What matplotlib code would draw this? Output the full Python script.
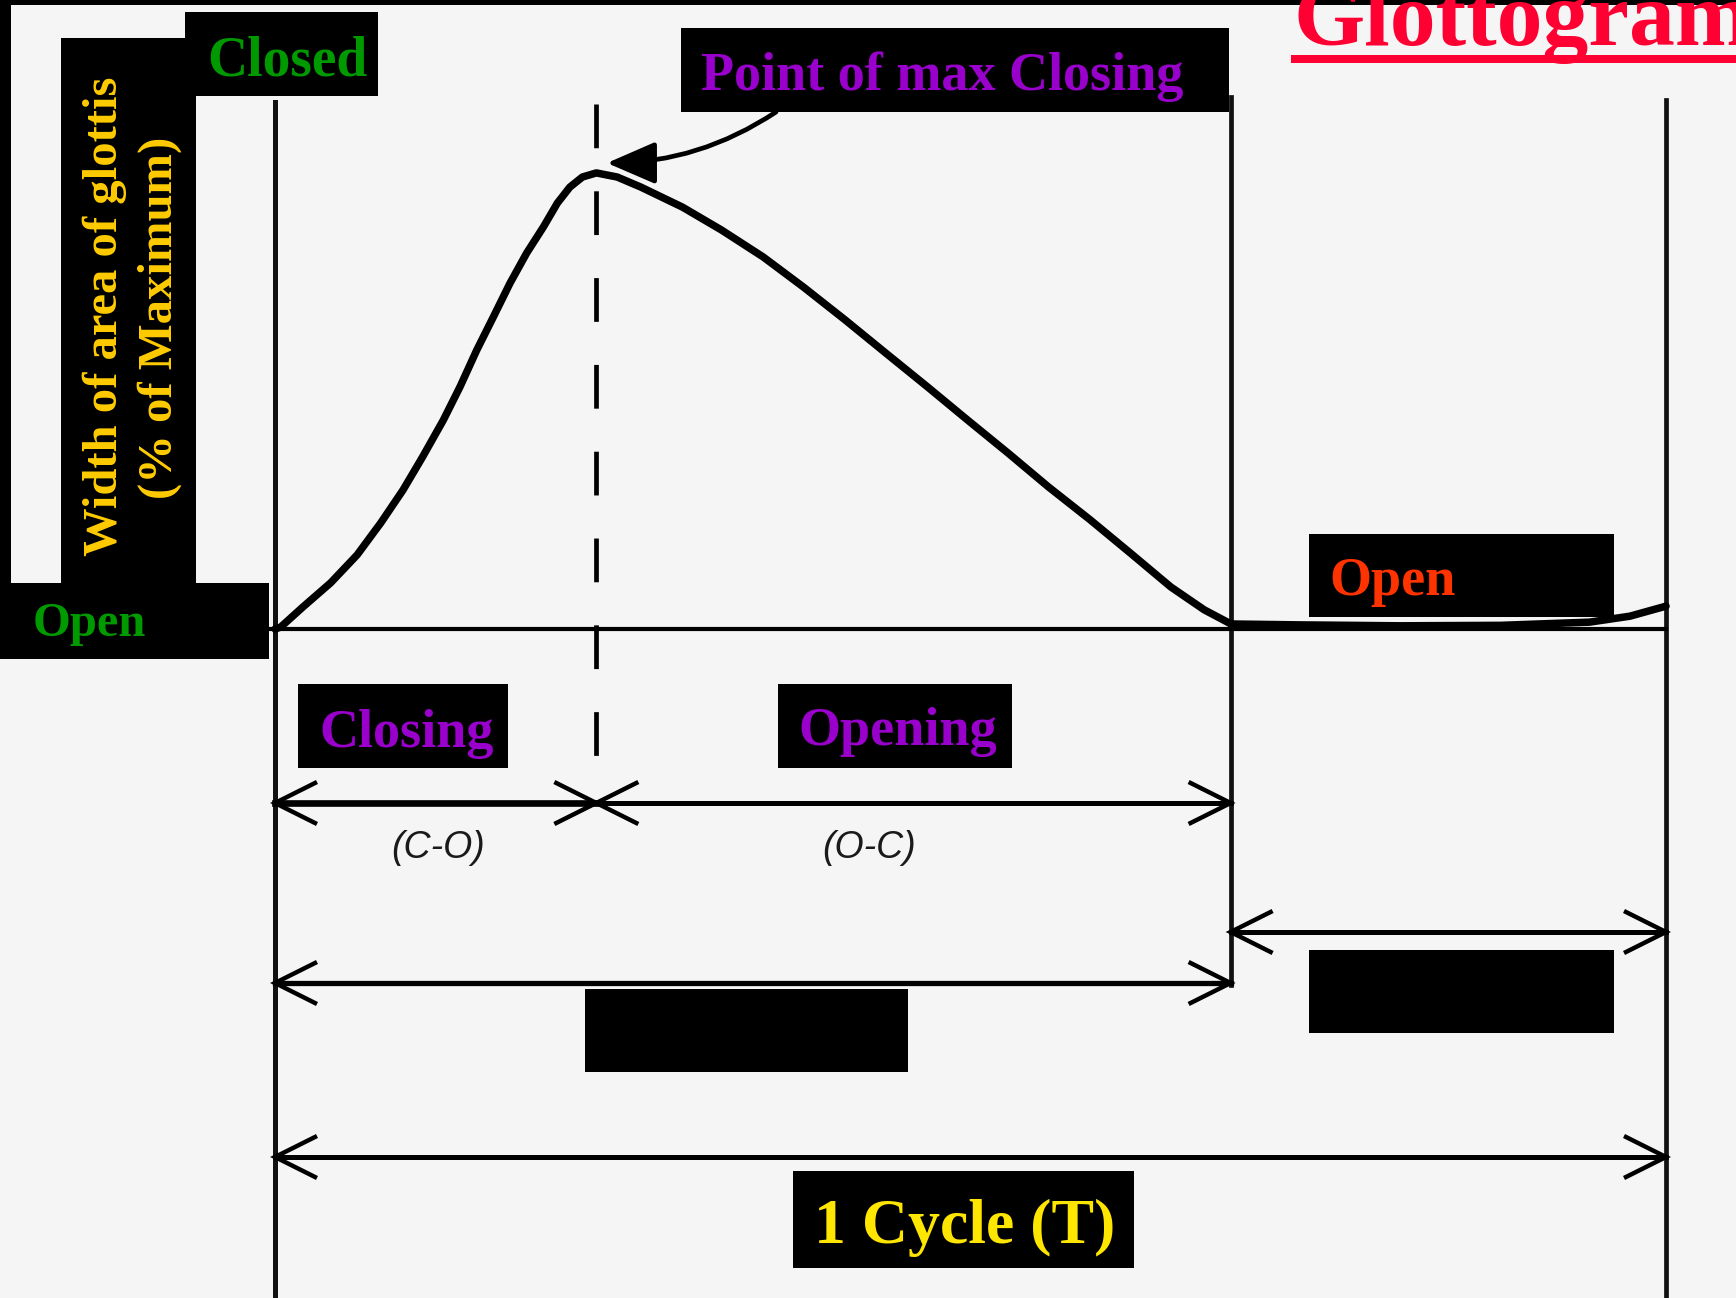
import numpy as np
import matplotlib
matplotlib.use("Agg")
import matplotlib.pyplot as plt
from matplotlib.patches import Rectangle, FancyArrowPatch

# ---------------- data ----------------
# glottal width (% of maximum) against time (% of one vibratory cycle T)
cycle_t = [0, 0.4, 2.0, 4.0, 5.9, 7.6, 9.2, 10.6, 12.1, 13.3, 14.5, 15.7, 16.9,
           18.1, 19.3, 20.3, 21.2, 22.1, 23.1, 24.6, 26.3, 29.3, 32.1, 35.1,
           38.0, 41.0, 43.9, 46.9, 49.8, 52.7, 55.6, 58.6, 61.5, 64.4, 66.8,
           68.6, 68.7, 73.7, 80.9, 88.1, 94.5, 97.4, 100]
glottal_width = [0, 0.4, 4.8, 10.1, 16.2, 23.2, 30.4, 37.6, 45.7, 53.0, 61.0,
                 68.3, 75.7, 82.3, 88.0, 93.2, 96.7, 98.9, 99.8, 98.9, 96.7,
                 92.3, 87.3, 81.4, 74.8, 67.6, 60.4, 53.0, 45.7, 38.5, 31.1,
                 23.9, 16.6, 9.2, 4.2, 1.3, 1.1, 0.9, 0.7, 0.8, 1.5, 2.8, 5.0]
peak_time = 23.1
phase_bounds = [0, 23.1, 68.7, 100]     # start, max closing, end of opening, end of cycle
phase_labels = ["Closing", "Opening"]
phase_codes = ["(C-O)", "(O-C)"]
title = "Glottogram"
ylabel_lines = ["Width of area of glottis", "(% of Maximum)"]
cycle_label = "1 Cycle (T)"

# ---------------- layout (pixels) ----------------
W, H = 1736, 1298
X0, X1 = 275, 1666          # pixel columns of t=0 and t=100
Y0, Y100 = 629, 172         # pixel rows of width 0 and 100
SX = (X1 - X0) / 100.0
SY = (Y0 - Y100) / 100.0

def wy(py):
    return (Y0 - py) / SY

plt.rcParams["lines.scale_dashes"] = False
fig = plt.figure(figsize=(W / 100, H / 100), dpi=100, facecolor="#f5f5f5")

# data axes covering the whole figure
ax = fig.add_axes([0, 0, 1, 1], zorder=1)
ax.set_xlim(-X0 / SX, (W - X0) / SX)
ax.set_ylim(wy(H), wy(0))
ax.axis("off")
ax.patch.set_alpha(0)

# overlay axes in pixel units for boxes/labels
ov = fig.add_axes([0, 0, 1, 1], zorder=2)
ov.set_xlim(0, W)
ov.set_ylim(H, 0)
ov.axis("off")
ov.patch.set_alpha(0)

K = "black"
# vertical lines at cycle boundaries
ax.plot([phase_bounds[0]] * 2, [wy(102), wy(H)], color="#111111", lw=3.6)
ax.plot([phase_bounds[2]] * 2, [wy(97), wy(985)], color="#111111", lw=3.4)
ax.plot([phase_bounds[3]] * 2, [wy(100), wy(H)], color="#111111", lw=3.4)
# baseline (open)
ax.plot([-0.4, phase_bounds[3]], [0, 0], color=K, lw=3.0)
# dashed line at max closing
ax.plot([peak_time, peak_time], [wy(104), wy(757)], color=K, lw=3.4,
        dashes=(31.5, 31.0))
# glottogram curve
ax.plot(cycle_t, glottal_width, color=K, lw=5.4, solid_joinstyle="round",
        solid_capstyle="round")

# double-headed dimension arrows
ARM_X = 40 / SX
ARM_Y = 20 / SY

def chevron(t, w, d, lw):
    ax.plot([t - d * ARM_X, t, t - d * ARM_X], [w + ARM_Y, w, w - ARM_Y],
            color=K, lw=lw, solid_joinstyle="miter")

def dim_arrow(t0, t1, py, lw):
    w = wy(py)
    ax.plot([t0, t1], [w, w], color=K, lw=lw)
    chevron(t0, w, -1, 3.2)
    chevron(t1, w, 1, 3.2)

dim_arrow(phase_bounds[0], phase_bounds[1], 803, 4.8)
dim_arrow(phase_bounds[1], phase_bounds[2], 803, 3.6)
dim_arrow(phase_bounds[0], phase_bounds[2], 983, 3.8)
dim_arrow(phase_bounds[2], phase_bounds[3], 932, 3.6)
dim_arrow(phase_bounds[0], phase_bounds[3], 1157, 3.6)

# ---------------- decoration ----------------
def box(x0, y0, x1, y1, c="black"):
    ov.add_patch(Rectangle((x0, y0), x1 - x0, y1 - y0, facecolor=c,
                           edgecolor="none"))

box(0, 0, W, 5)
box(0, 0, 11, 659)
box(61, 38, 196, 583)
box(185, 12, 378, 96)
box(11, 583, 269, 659)
box(681, 28, 1229, 112)
box(298, 684, 508, 768)
box(778, 684, 1012, 768)
box(1309, 534, 1614, 617)
box(585, 989, 908, 1072)
box(1309, 950, 1614, 1033)
box(793, 1171, 1134, 1268)

SERIF = dict(family="Liberation Serif", weight="bold")
GREEN = "#009900"
PURPLE = "#9900CC"

ov.text(207, 76, "Closed", color=GREEN, fontsize=40, va="baseline", ha="left", **SERIF)
ov.text(33, 636, "Open", color=GREEN, fontsize=35, va="baseline", ha="left", **SERIF)
ov.text(117, 316, ylabel_lines[0], color="#FFCC00", fontsize=35, rotation=90,
        rotation_mode="anchor", ha="center", va="baseline", **SERIF)
ov.text(172, 318, ylabel_lines[1], color="#FFCC00", fontsize=35, rotation=90,
        rotation_mode="anchor", ha="center", va="baseline", **SERIF)
ov.text(701, 90, "Point of max Closing", color=PURPLE, fontsize=39,
        va="baseline", ha="left", **SERIF)
ov.text(319, 747, phase_labels[0], color=PURPLE, fontsize=39, va="baseline",
        ha="left", **SERIF)
ov.text(798, 745, phase_labels[1], color=PURPLE, fontsize=39, va="baseline",
        ha="left", **SERIF)
ov.text(1329, 595, "Open", color="#FF3300", fontsize=39, va="baseline",
        ha="left", **SERIF)
ov.text(814, 1243, cycle_label, color="#FFE600", fontsize=46, va="baseline",
        ha="left", **SERIF)
ov.text(438, 848, phase_codes[0], color="#1a1a1a", fontsize=27, style="italic",
        family="Liberation Sans", ha="center", va="center")
ov.text(869, 848, phase_codes[1], color="#1a1a1a", fontsize=27, style="italic",
        family="Liberation Sans", ha="center", va="center")

# title (cut off at the top / right as in the slide)
ov.text(1294, 45, title, color="#FF0033", fontsize=66, va="baseline",
        ha="left", clip_on=True, **SERIF)
box(1291, 55, W, 63, c="#FF0033")

# annotation arrow to the point of max closing
arr = FancyArrowPatch(posA=(776, 112), posB=(607, 163),
                      arrowstyle="-|>,head_length=30,head_width=13",
                      mutation_scale=1, connectionstyle="arc3,rad=-0.15",
                      lw=3.4, color=K, shrinkA=0, shrinkB=0)
ov.add_patch(arr)

fig.savefig("out.png", dpi=100, facecolor=fig.get_facecolor())
